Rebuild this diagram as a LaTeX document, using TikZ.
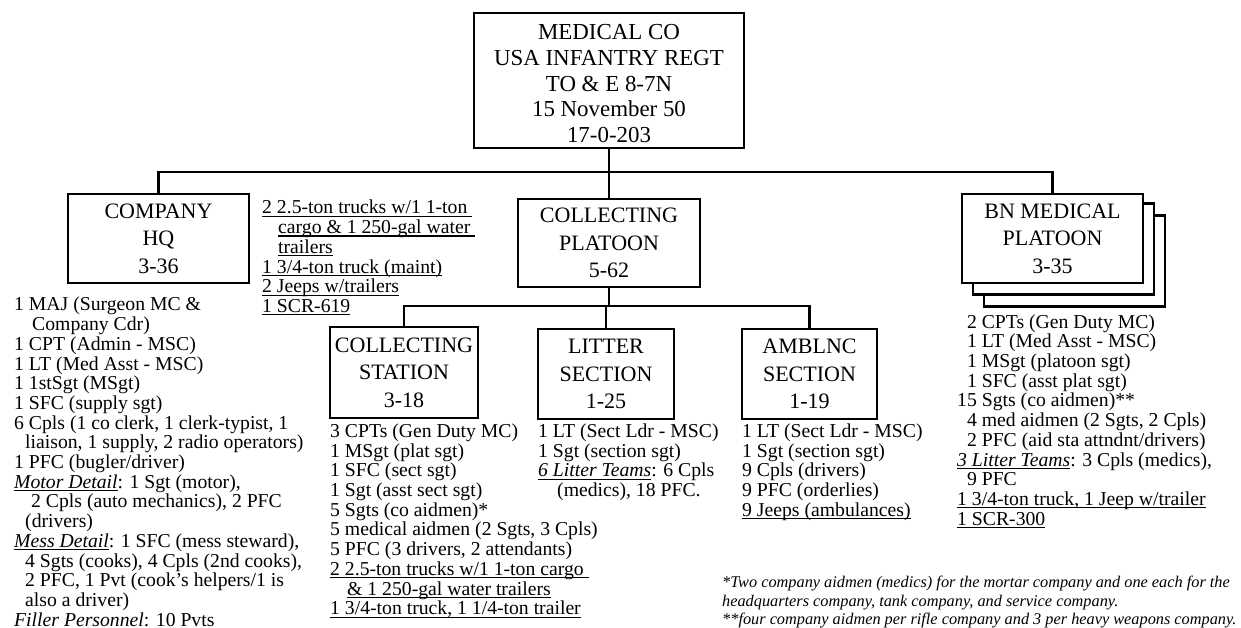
\documentclass[tikz,border=0pt]{standalone}
\usepackage{fontspec}
\setmainfont{Liberation Serif}
\newcommand\myul[1]{\leavevmode\setbox0\hbox{#1}\rlap{\rule[-3pt]{\wd0}{1.2pt}}\box0}
\tikzset{
  orgbox/.style={draw, line width=2.6pt, line join=miter, fill=white, inner sep=0pt,
    align=center, font=\fontsize{22}{27.5}\selectfont},
  boxtext/.style={inner sep=0pt, align=center, font=\fontsize{22.9}{25.75}\selectfont},
  conn/.style={line width=2.6pt, line join=miter},
  body/.style={inner sep=0pt, anchor=north west, align=left, font=\fontsize{19.7}{19.7}\selectfont},
  foot/.style={inner sep=0pt, anchor=north west, align=left, font=\fontsize{16.3}{18.5}\selectfont\itshape},
}
\begin{document}
\begin{tikzpicture}[x=1pt,y=-1pt]
\useasboundingbox (0,0) rectangle (1241,628);
% boxes
\node[orgbox, minimum width=270, minimum height=135] (top) at (609,80.5) {};
\node[boxtext, anchor=north] (toptext) at (609,21.5) {\strut MEDICAL CO\\USA INFANTRY REGT\\TO \& E 8-7N\\15 November 50\\17-0-203};
\node[orgbox, minimum width=181, minimum height=89] (hq) at (158.5,238.5) {COMPANY\\HQ\\3-36};
\node[orgbox, minimum width=182, minimum height=88] (plat) at (609,243) {COLLECTING\\PLATOON\\5-62};
\node[orgbox, minimum width=181, minimum height=91] (bn3) at (1074.5,261) {};
\node[orgbox, minimum width=181, minimum height=91] (bn2) at (1063.5,249) {};
\node[orgbox, minimum width=181, minimum height=89] (bn) at (1052.5,238.5) {BN MEDICAL\\PLATOON\\3-35};
\node[orgbox, minimum width=148, minimum height=91] (station) at (404,372.5) {COLLECTING\\STATION\\3-18};
\node[orgbox, minimum width=136, minimum height=90] (litter) at (606,374) {LITTER\\SECTION\\1-25};
\node[orgbox, minimum width=135, minimum height=90] (amb) at (809.5,374) {AMBLNC\\SECTION\\1-19};
% connectors
\coordinate (bus1) at (609,172);
\coordinate (bus2) at (609,306);
\draw[conn] (top.south) -- (bus1) -- (plat.north);
\draw[conn] (hq.north) |- (bus1) -| (bn.north);
\draw[conn] (plat.south) -- (bus2);
\draw[conn] (station.north) |- (bus2) -| (amb.north);
\draw[conn] (bus2 -| litter.north) -- (litter.north);
% texts
\node[body] (hqlist) at (14,297) {\strut 1 MAJ (Surgeon MC \&\\
\hspace*{18pt}Company Cdr)\\
1 CPT (Admin - MSC)\\
1 LT (Med Asst - MSC)\\
1 1stSgt (MSgt)\\
1 SFC (supply sgt)\\
6 Cpls (1 co clerk, 1 clerk-typist, 1\\
\hspace*{11pt}liaison, 1 supply, 2 radio operators)\\
1 PFC (bugler/driver)\\
\myul{\itshape Motor Detail}: 1 Sgt (motor),\\
\hspace*{17pt}2 Cpls (auto mechanics), 2 PFC\\
\hspace*{11pt}(drivers)\\
\myul{\itshape Mess Detail}: 1 SFC (mess steward),\\
\hspace*{11pt}4 Sgts (cooks), 4 Cpls (2nd cooks),\\
\hspace*{11pt}2 PFC, 1 Pvt (cook's helpers/1 is\\
\hspace*{11pt}also a driver)\\
{\itshape Filler Personnel}: 10 Pvts};
\node[body] (hqveh) at (262,200) {\strut\myul{2 2.5-ton trucks w/1 1-ton }\\
\hspace*{16pt}\myul{cargo \& 1 250-gal water }\\
\hspace*{16pt}\myul{trailers}\\
\myul{1 3/4-ton truck (maint)}\\
\myul{2 Jeeps w/trailers}\\
\myul{1 SCR-619}};
\node[body] (stlist) at (330,423.5) {\strut 3 CPTs (Gen Duty MC)\\
1 MSgt (plat sgt)\\
1 SFC (sect sgt)\\
1 Sgt (asst sect sgt)\\
5 Sgts (co aidmen)*\\
5 medical aidmen (2 Sgts, 3 Cpls)\\
5 PFC (3 drivers, 2 attendants)\\
\myul{2 2.5-ton trucks w/1 1-ton cargo }\\
\hspace*{17pt}\myul{\& 1 250-gal water trailers}\\
\myul{1 3/4-ton truck, 1 1/4-ton trailer}};
\node[body] (ltlist) at (538,423.5) {\strut 1 LT (Sect Ldr - MSC)\\
1 Sgt (section sgt)\\
\myul{\itshape 6 Litter Teams}: 6 Cpls\\
\hspace*{19pt}(medics), 18 PFC.};
\node[body] (amlist) at (742,423.5) {\strut 1 LT (Sect Ldr - MSC)\\
1 Sgt (section sgt)\\
9 Cpls (drivers)\\
9 PFC (orderlies)\\
\myul{9 Jeeps (ambulances)}};
\node[body] (bnlist) at (957,314.2) {\strut\hphantom{1}2 CPTs (Gen Duty MC)\\
\hphantom{1}1 LT (Med Asst - MSC)\\
\hphantom{1}1 MSgt (platoon sgt)\\
\hphantom{1}1 SFC (asst plat sgt)\\
15 Sgts (co aidmen)**\\
\hphantom{1}4 med aidmen (2 Sgts, 2 Cpls)\\
\hphantom{1}2 PFC (aid sta attndnt/drivers)\\
\myul{\itshape 3 Litter Teams}: 3 Cpls (medics),\\
\hphantom{1}9 PFC\\
\myul{1 3/4-ton truck, 1 Jeep w/trailer}\\
\myul{1 SCR-300}};
\node[foot] (notes) at (722,574.5) {\strut*Two company aidmen (medics) for the mortar company and one each for the\\
headquarters company, tank company, and service company.\\
**four company aidmen per rifle company and 3 per heavy weapons company.};
\end{tikzpicture}
\end{document}
